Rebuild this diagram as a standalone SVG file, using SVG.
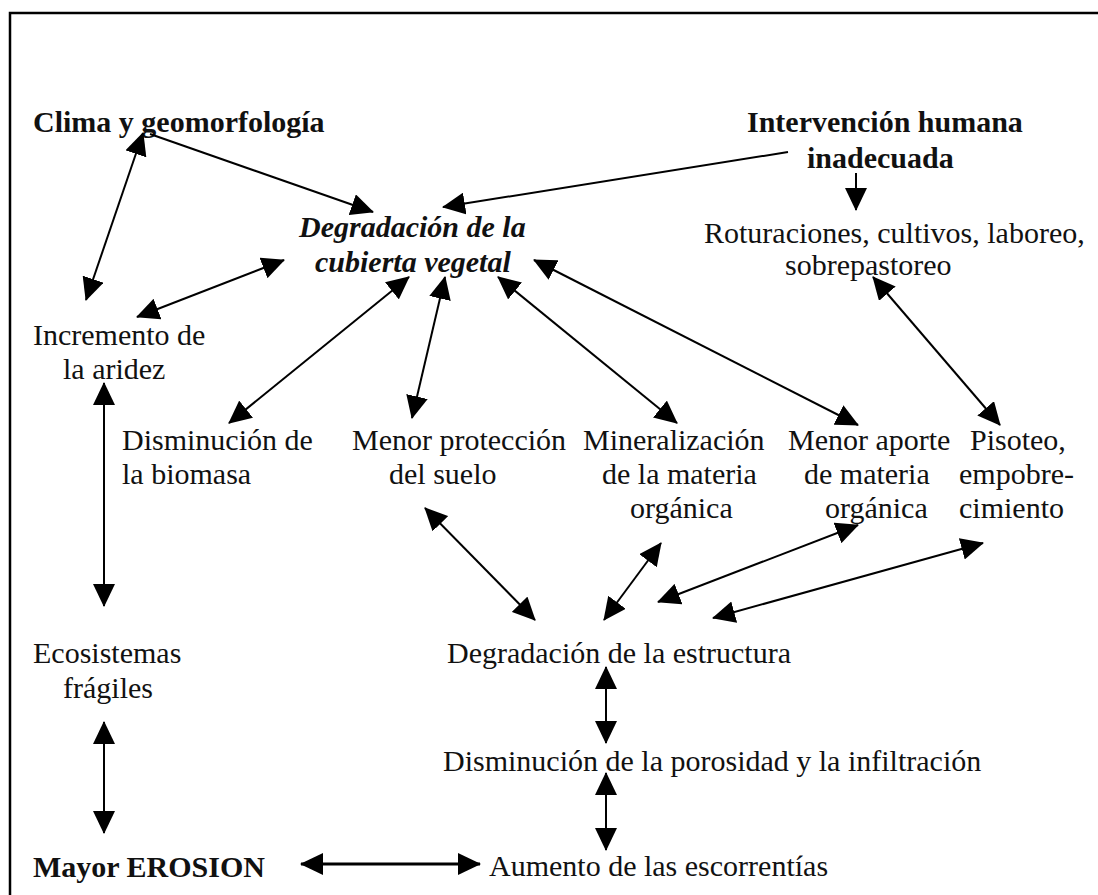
<svg xmlns="http://www.w3.org/2000/svg" width="1098" height="895" viewBox="0 0 1098 895">
<defs>
<marker id="ah" markerUnits="userSpaceOnUse" markerWidth="23" markerHeight="22" viewBox="0 0 23 22" refX="22" refY="11" orient="auto-start-reverse">
<path d="M0,0 L23,11 L0,22 z" fill="#000"/>
</marker>
<style>
text{font-family:"Liberation Serif","Times New Roman",serif;font-size:30px;fill:#111}
.b{font-weight:bold}
.bi{font-weight:bold;font-style:italic}
.c line{stroke:#000;stroke-width:2;fill:none}
.one{marker-end:url(#ah)}
.two{marker-start:url(#ah);marker-end:url(#ah)}
</style>
</defs>
<rect x="0" y="0" width="1098" height="895" fill="#fff"/>
<rect x="10" y="13" width="1100" height="900" fill="none" stroke="#000" stroke-width="2.5"/>

<g id="clima"><text class="b" x="33" y="132">Clima y geomorfología</text></g>
<g id="intervencion"><text class="b" x="747" y="132">Intervención humana</text><text class="b" x="807" y="168">inadecuada</text></g>
<g id="degradacion-cubierta"><text class="bi" x="299" y="237">Degradación de la</text><text class="bi" x="315" y="272">cubierta vegetal</text></g>
<g id="roturaciones"><text x="704" y="243">Roturaciones, cultivos, laboreo,</text><text x="785" y="275">sobrepastoreo</text></g>
<g id="incremento"><text x="33" y="345">Incremento de</text><text x="63" y="379">la aridez</text></g>
<g id="disminucion-biomasa"><text x="122" y="450">Disminución de</text><text x="122" y="484">la biomasa</text></g>
<g id="menor-proteccion"><text x="352" y="450">Menor protección</text><text x="389" y="484">del suelo</text></g>
<g id="mineralizacion"><text x="583" y="450">Mineralización</text><text x="602" y="484">de la materia</text><text x="630" y="518">orgánica</text></g>
<g id="menor-aporte"><text x="788" y="450">Menor aporte</text><text x="804" y="484">de materia</text><text x="825" y="518">orgánica</text></g>
<g id="pisoteo"><text x="970" y="450">Pisoteo,</text><text x="959" y="484">empobre-</text><text x="959" y="518">cimiento</text></g>
<g id="ecosistemas"><text x="33" y="663">Ecosistemas</text><text x="63" y="698">frágiles</text></g>
<g id="degradacion-estructura"><text x="447" y="663">Degradación de la estructura</text></g>
<g id="porosidad"><text x="443" y="771">Disminución de la porosidad y la infiltración</text></g>
<g id="erosion"><text class="b" x="33" y="877">Mayor EROSION</text></g>
<g id="escorrentias"><text x="489" y="876">Aumento de las escorrentías</text></g>

<g id="connectors" class="c">
<line class="two" x1="143" y1="133" x2="86" y2="300"/>
<line class="one" x1="150" y1="134" x2="373" y2="212"/>
<line class="one" x1="788" y1="152" x2="443" y2="207"/>
<line class="one" x1="856" y1="173" x2="856" y2="210"/>
<line class="two" x1="284" y1="260" x2="137" y2="317"/>
<line class="two" x1="409" y1="277" x2="229" y2="423"/>
<line class="two" x1="445" y1="277" x2="412" y2="418"/>
<line class="two" x1="498" y1="277" x2="677" y2="423"/>
<line class="two" x1="534" y1="260" x2="858" y2="425"/>
<line class="two" x1="873" y1="277" x2="1000" y2="425"/>
<line class="two" x1="104" y1="383" x2="104" y2="606"/>
<line class="two" x1="425" y1="508" x2="535" y2="620"/>
<line class="two" x1="661" y1="543" x2="604" y2="620"/>
<line class="two" x1="858" y1="525" x2="658" y2="602"/>
<line class="two" x1="983" y1="543" x2="713" y2="618"/>
<line class="two" x1="606" y1="667" x2="606" y2="743"/>
<line class="two" x1="606" y1="773" x2="606" y2="850"/>
<line class="two" x1="104" y1="722" x2="104" y2="833"/>
<line class="two" x1="301" y1="864" x2="480" y2="864" style="stroke-width:3"/>
</g>
</svg>
